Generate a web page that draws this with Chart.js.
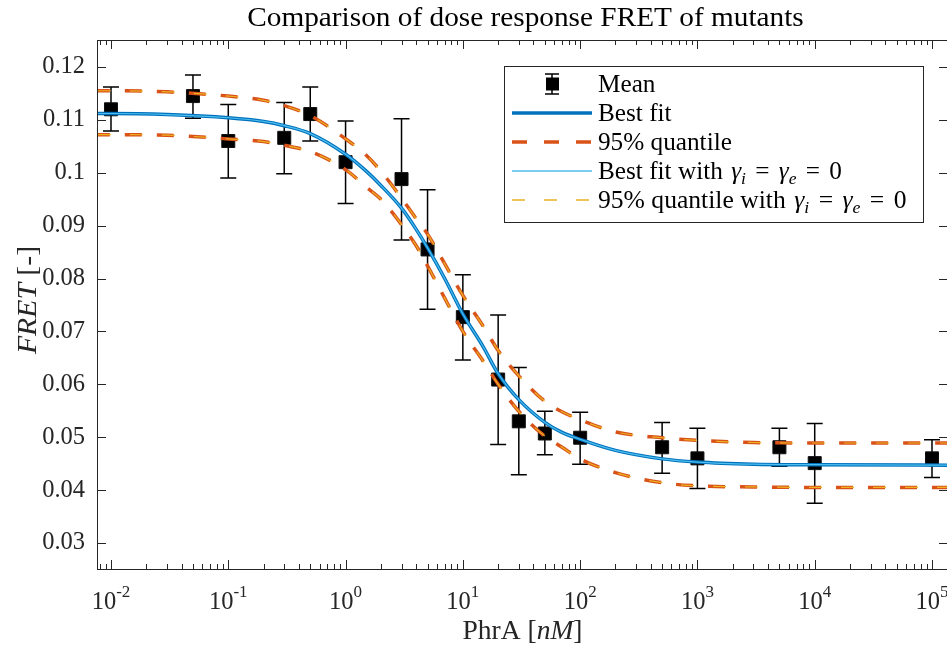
<!DOCTYPE html>
<html lang="en">
<head>
  <meta charset="UTF-8" />
  <title>Comparison of dose response FRET of mutants</title>
  <script src="https://cdn.jsdelivr.net/npm/chart.js"></script>
  <style>
    html, body { margin: 0; padding: 0; background: #fff; overflow: hidden; }
    #wrap { width: 960px; height: 646px; }
  </style>
</head>
<body>
  <div id="wrap"><canvas id="fretChart" width="960" height="646"></canvas></div>

  <script>
    // measured means (PhrA in nM) with error bar ends
    const meanX = [0.01, 0.05, 0.1, 0.3, 0.5, 1, 3, 5, 10, 20, 30, 50, 100, 500, 1000, 5000, 10000, 100000];
    const meanY = [0.1120, 0.1145, 0.1060, 0.1066, 0.1111, 0.1020, 0.0988, 0.0855, 0.0727, 0.0609, 0.0530, 0.0507, 0.0499, 0.0481, 0.0460, 0.0481, 0.0451, 0.0460];
    const errTop = [0.1162, 0.1185, 0.1129, 0.1133, 0.1162, 0.1098, 0.1102, 0.0968, 0.0807, 0.0731, 0.0632, 0.0549, 0.0547, 0.0528, 0.0517, 0.0517, 0.0526, 0.0495];
    const errBottom = [0.1079, 0.1103, 0.0990, 0.0998, 0.1060, 0.0942, 0.0873, 0.0742, 0.0646, 0.0486, 0.0429, 0.0467, 0.0449, 0.0432, 0.0403, 0.0445, 0.0375, 0.0424];

    // fitted curves, sampled along the concentration axis
    const fitX = [0.007, 0.01, 0.03, 0.1, 0.2, 0.3, 0.5, 1, 1.5, 2, 3, 4, 5, 7, 10, 15, 20, 30, 50, 70, 100, 200, 500, 1000, 3000, 10000, 200000];
    const bestFit = [0.1112, 0.1112, 0.1110, 0.1104, 0.1097, 0.1089, 0.1074, 0.1035, 0.1003, 0.0976, 0.0933, 0.0893, 0.0858, 0.0800, 0.0733, 0.0670, 0.0620, 0.0571, 0.0528, 0.0509, 0.0496, 0.0475, 0.0459, 0.0453, 0.0449, 0.0448, 0.0447];
    const upper95 = [0.1155, 0.1155, 0.1153, 0.1145, 0.1137, 0.1127, 0.1108, 0.1064, 0.1033, 0.1003, 0.0952, 0.0913, 0.0884, 0.0828, 0.0768, 0.0709, 0.0664, 0.0616, 0.0568, 0.0548, 0.0533, 0.0510, 0.0499, 0.0494, 0.0490, 0.0489, 0.0489];
    const lower95 = [0.1072, 0.1072, 0.1071, 0.1064, 0.1059, 0.1052, 0.1040, 0.1006, 0.0973, 0.0950, 0.0902, 0.0862, 0.0824, 0.0763, 0.0700, 0.0643, 0.0600, 0.0549, 0.0502, 0.0481, 0.0459, 0.0433, 0.0414, 0.0408, 0.0406, 0.0405, 0.0405];
    // fit with gamma_i = gamma_e = 0 lands on the same curves
    const bestFitG0 = bestFit.slice();
    const upper95G0 = upper95.slice();
    const lower95G0 = lower95.slice();

    const yTicks = [0.03, 0.04, 0.05, 0.06, 0.07, 0.08, 0.09, 0.1, 0.11, 0.12];
    const yTickLabels = ['0.03', '0.04', '0.05', '0.06', '0.07', '0.08', '0.09', '0.1', '0.11', '0.12'];
    const xDecades = [-2, -1, 0, 1, 2, 3, 4, 5];

    const xMin = 0.007598, xMax = 136900;
    const yMin = 0.02508, yMax = 0.12510;

    const SERIF = '"Liberation Serif", "Times New Roman", serif';
    const AXIS = '#262626';
    const BLUE = '#0072BD', ORANGE = '#D95319', LIGHTBLUE = '#4DBEEE', YELLOW = '#EDB120';

    const pts = (xs, ys) => xs.map((x, i) => ({ x: x, y: ys[i] }));

    function font(size, italic) {
      return (italic ? 'italic ' : '') + size + 'px ' + SERIF;
    }

    // draws a run of text pieces (upright / italic / sub- and superscripts),
    // optionally stretched sideways; pieces may carry extra space before/after
    function richText(ctx, parts, x, y, align, size, stretch) {
      size = size || 24.5;
      stretch = stretch || 1;
      let total = 0;
      parts.forEach(p => {
        ctx.font = font(p.size || size, p.italic);
        p.w = ctx.measureText(p.t).width + (p.padL || 0) + (p.padR || 0);
        total += p.w;
      });
      const start = align === 'center' ? x - total * stretch / 2 : x;
      ctx.save();
      ctx.translate(start, y);
      ctx.scale(stretch, 1);
      ctx.textAlign = 'left';
      let cx = 0;
      parts.forEach(p => {
        ctx.font = font(p.size || size, p.italic);
        ctx.fillText(p.t, cx + (p.padL || 0), p.dy || 0);
        cx += p.w;
      });
      ctx.restore();
    }

    const errorBars = {
      id: 'errorBars',
      beforeDatasetsDraw(chart) {
        const { ctx, scales: { x, y } } = chart;
        ctx.save();
        ctx.strokeStyle = '#000';
        ctx.lineWidth = 1.5;
        meanX.forEach((v, i) => {
          const px = x.getPixelForValue(v);
          const t = y.getPixelForValue(errTop[i]);
          const b = y.getPixelForValue(errBottom[i]);
          ctx.beginPath();
          ctx.moveTo(px, t); ctx.lineTo(px, b);
          ctx.moveTo(px - 8, t); ctx.lineTo(px + 8, t);
          ctx.moveTo(px - 8, b); ctx.lineTo(px + 8, b);
          ctx.stroke();
        });
        ctx.restore();
      }
    };

    const frame = {
      id: 'frame',
      afterDraw(chart) {
        const { ctx, chartArea: ca, scales: { x, y } } = chart;
        ctx.save();
        ctx.strokeStyle = AXIS;
        ctx.lineWidth = 1;
        ctx.strokeRect(ca.left + 0.5, ca.top + 0.5, ca.right - ca.left, ca.bottom - ca.top);

        // inward tick marks on all four sides
        ctx.beginPath();
        for (let k = -3; k <= 6; k++) {
          for (let m = 1; m <= 9; m++) {
            const v = m * Math.pow(10, k);
            if (v < xMin || v > xMax) continue;
            const px = Math.round(x.getPixelForValue(v)) + 0.5;
            const len = m === 1 ? 9 : 5;
            ctx.moveTo(px, ca.bottom); ctx.lineTo(px, ca.bottom - len);
            ctx.moveTo(px, ca.top); ctx.lineTo(px, ca.top + len);
          }
        }
        yTicks.forEach(v => {
          const py = Math.round(y.getPixelForValue(v)) + 0.5;
          ctx.moveTo(ca.left, py); ctx.lineTo(ca.left + 9, py);
          ctx.moveTo(ca.right, py); ctx.lineTo(ca.right - 9, py);
        });
        ctx.stroke();

        // decade labels 10^k
        ctx.fillStyle = AXIS;
        ctx.textBaseline = 'alphabetic';
        xDecades.forEach(k => {
          const px = x.getPixelForValue(Math.pow(10, k));
          richText(ctx, [
            { t: '10' },
            { t: String(k), size: 17, dy: -12 }
          ], px, 609, 'center');
        });

        // axis titles
        richText(ctx, [{ t: 'PhrA [' }, { t: 'nM', italic: true }, { t: ']' }],
          (ca.left + ca.right) / 2, 639, 'center', 27, 1.02);
        ctx.save();
        ctx.translate(36, 300);
        ctx.rotate(-Math.PI / 2);
        richText(ctx, [{ t: 'FRET', italic: true }, { t: ' [-]' }], 0, 0, 'center', 27, 1.1);
        ctx.restore();

        // title
        ctx.fillStyle = '#000';
        richText(ctx, [{ t: 'Comparison of dose response FRET of mutants' }],
          (ca.left + ca.right) / 2 + 3, 26, 'center', 27, 1.085);
        ctx.restore();
      }
    };

    const legendBox = {
      id: 'legendBox',
      afterDraw(chart) {
        const ctx = chart.ctx;
        const L = 504, T = 66, R = 923, B = 222;
        const rows = [84, 113, 142, 171, 200];
        const x0 = 512, x1 = 592, tx = 598;
        ctx.save();
        ctx.fillStyle = '#fff';
        ctx.fillRect(L, T, R - L, B - T);
        ctx.strokeStyle = AXIS;
        ctx.lineWidth = 1;
        ctx.strokeRect(L + 0.5, T + 0.5, R - L, B - T);

        // mean marker with its small error bar
        ctx.strokeStyle = '#000';
        ctx.lineWidth = 1.5;
        ctx.beginPath();
        ctx.moveTo(552, rows[0] - 10); ctx.lineTo(552, rows[0] + 10);
        ctx.moveTo(545, rows[0] - 10); ctx.lineTo(559, rows[0] - 10);
        ctx.moveTo(545, rows[0] + 10); ctx.lineTo(559, rows[0] + 10);
        ctx.stroke();
        ctx.fillStyle = '#000';
        ctx.fillRect(546, rows[0] - 6.5, 13, 13);

        const sample = (row, color, width, dash) => {
          ctx.strokeStyle = color;
          ctx.lineWidth = width;
          ctx.setLineDash(dash || []);
          ctx.beginPath();
          ctx.moveTo(x0, row); ctx.lineTo(x1, row);
          ctx.stroke();
          ctx.setLineDash([]);
        };
        sample(rows[1], BLUE, 3.5);
        sample(rows[2], ORANGE, 3.5, [15, 17]);
        sample(rows[3], LIGHTBLUE, 1.5);
        sample(rows[4], YELLOW, 1.5, [13, 19]);

        ctx.fillStyle = '#000';
        ctx.textBaseline = 'alphabetic';
        const base = 8;
        const gammas = () => [
          { t: 'γ', italic: true, padL: 2 }, { t: 'i', italic: true, size: 17, dy: 5 },
          { t: '=', padL: 9, padR: 9 },
          { t: 'γ', italic: true }, { t: 'e', italic: true, size: 17, dy: 5 },
          { t: '=', padL: 9, padR: 9 },
          { t: '0' }
        ];
        richText(ctx, [{ t: 'Mean' }], tx, rows[0] + base, 'left', 24.5, 1.03);
        richText(ctx, [{ t: 'Best fit' }], tx, rows[1] + base, 'left', 24.5, 1.03);
        richText(ctx, [{ t: '95% quantile' }], tx, rows[2] + base, 'left', 24.5, 1.03);
        richText(ctx, [{ t: 'Best fit with ' }].concat(gammas()), tx, rows[3] + base, 'left', 24.5, 1.03);
        richText(ctx, [{ t: '95% quantile with ' }].concat(gammas()), tx, rows[4] + base, 'left', 24.5, 1.045);
        ctx.restore();
      }
    };

    const curve = (label, ys, color, width, dash, order, dashOffset) => ({
      label: label,
      data: pts(fitX, ys),
      borderColor: color,
      borderWidth: width,
      borderDash: dash || [],
      borderDashOffset: dashOffset || 0,
      pointRadius: 0,
      cubicInterpolationMode: 'monotone',
      fill: false,
      order: order
    });

    new Chart(document.getElementById('fretChart').getContext('2d'), {
      type: 'line',
      data: {
        datasets: [
          {
            label: 'Mean',
            data: pts(meanX, meanY),
            showLine: false,
            pointStyle: 'rect',
            pointRadius: 9.2,
            pointBackgroundColor: '#000',
            pointBorderColor: '#111',
            pointBorderWidth: 1,
            order: 6
          },
          curve('Best fit', bestFit, BLUE, 3.5, null, 5),
          curve('95% quantile', upper95, ORANGE, 3.5, [17, 15], 4),
          curve('95% quantile', lower95, ORANGE, 3.5, [17, 15], 4),
          curve('Best fit with gamma = 0', bestFitG0, LIGHTBLUE, 1.2, null, 2),
          curve('95% quantile with gamma = 0', upper95G0, YELLOW, 1.2, [13, 19], 1, -5),
          curve('95% quantile with gamma = 0', lower95G0, YELLOW, 1.2, [13, 19], 1, -5)
        ]
      },
      options: {
        responsive: false,
        animation: false,
        layout: { padding: { left: 0, top: 40, right: 12, bottom: 77 } },
        plugins: {
          legend: { display: false },
          tooltip: { enabled: false },
          title: { display: false }
        },
        scales: {
          x: { type: 'logarithmic', min: xMin, max: xMax, display: false },
          y: {
            type: 'linear',
            min: yMin,
            max: yMax,
            afterFit: s => { s.width = 97; },
            afterBuildTicks: s => { s.ticks = yTicks.map(v => ({ value: v })); },
            ticks: {
              color: AXIS,
              padding: 12,
              font: { family: SERIF, size: 24.5 },
              callback: (v, i) => yTickLabels[i]
            },
            grid: { display: false, drawTicks: false },
            border: { display: false }
          }
        }
      },
      plugins: [errorBars, frame, legendBox]
    });
  </script>
</body>
</html>
